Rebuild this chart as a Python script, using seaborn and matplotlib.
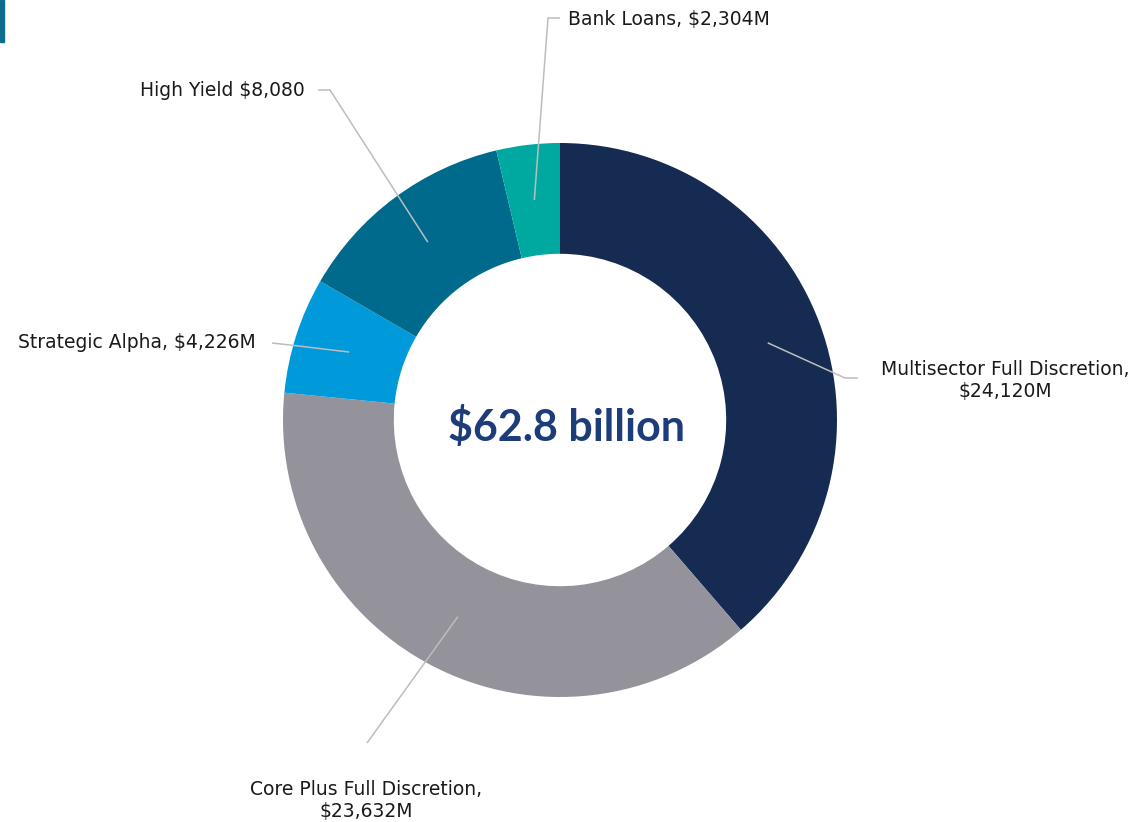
import numpy as np
import matplotlib
matplotlib.use("Agg")
import matplotlib.pyplot as plt
import seaborn as sns

# Assets under management by strategy ($M), clockwise from 12 o'clock
strategies = ["Multisector Full Discretion", "Core Plus Full Discretion",
              "Strategic Alpha", "High Yield", "Bank Loans"]
aum_musd = [24120, 23632, 4226, 8080, 2304]
label_texts = ["Multisector Full Discretion,\n$24,120M",
               "Core Plus Full Discretion,\n$23,632M",
               "Strategic Alpha, $4,226M",
               "High Yield $8,080",
               "Bank Loans, $2,304M"]
total_label = "$62.8 billion"

colors = ["#152B52", "#94939B", "#009ADB", "#006A8D", "#00A99F"]

sns.set_theme(style="white")
plt.rcParams["font.family"] = ["DejaVu Sans"]

W, H = 1141, 822
fig = plt.figure(figsize=(W / 100, H / 100), dpi=100)
ax = fig.add_axes([0, 0, 1, 1])

cx, cy, R = 560, H - 420, 277
wedges, _ = ax.pie(aum_musd, colors=colors, startangle=90, counterclock=False,
                   center=(cx, cy), radius=R, frame=True,
                   wedgeprops=dict(width=R * 0.4, linewidth=0))
ax.set_xlim(0, W)
ax.set_ylim(0, H)
ax.set_aspect("equal")
ax.axis("off")

ax.text(cx + 7, cy - 7, total_label, ha="center", va="center",
        fontsize=31, fontweight="bold", color="#1C3D7A", family=["Lato", "DejaVu Sans"])

# Leader layout: (elbow point, line end, text anchor, alignment) in pixel coords (y from top)
layout = [
    ((845, 378), (858, 378), (1005, 381), "center"),
    ((367, 743), (367, 743), (366, 800), "center"),
    ((290, 345), (272, 343), (256, 343), "right"),
    ((330, 90), (318, 90), (305, 90), "right"),
    ((548, 18), (560, 18), (568, 20), "left"),
]

for w, txt, (elbow, end, tpos, ha) in zip(wedges, label_texts, layout):
    mid = np.deg2rad((w.theta1 + w.theta2) / 2)
    r0 = R * 0.8
    sx, sy = cx + r0 * np.cos(mid), cy + r0 * np.sin(mid)
    xs = [sx, elbow[0], end[0]]
    ys = [sy, H - elbow[1], H - end[1]]
    ax.plot(xs, ys, color="#BDBDBD", lw=1.1, solid_capstyle="butt")
    ax.text(tpos[0], H - tpos[1], txt, ha=ha, va="center", fontsize=13.5,
            color="#1A1A1A", linespacing=1.2)

# accent bar at the top-left edge
fig.patches.append(plt.Rectangle((0, 1 - 42 / H), 4 / W, 42 / H,
                                 transform=fig.transFigure, color="#0F6C8E", zorder=5))

fig.savefig("out.png", dpi=100, facecolor="white")
